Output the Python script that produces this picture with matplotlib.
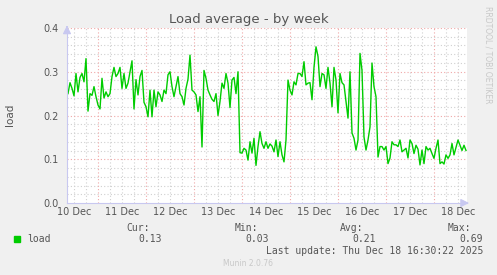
import numpy as np
import matplotlib
matplotlib.use("Agg")
import matplotlib.pyplot as plt
from matplotlib.ticker import MultipleLocator, FixedLocator

# hourly load average, starting Dec 10 09:00
load_a = [0.25, 0.275, 0.262, 0.245, 0.296, 0.254, 0.287, 0.296, 0.277, 0.33,
          0.21, 0.25, 0.246, 0.266, 0.243, 0.224, 0.215, 0.285, 0.24, 0.254,
          0.243, 0.25, 0.289, 0.31, 0.289, 0.296, 0.31, 0.262, 0.296, 0.262,
          0.274, 0.30, 0.325, 0.215, 0.282]
load_b = [0.247, 0.289, 0.303, 0.23, 0.22, 0.197, 0.258, 0.197, 0.258, 0.22,
          0.254, 0.247, 0.232, 0.258, 0.25, 0.293, 0.30, 0.266, 0.243, 0.266,
          0.289, 0.25, 0.243, 0.224, 0.262, 0.283, 0.338, 0.258, 0.254, 0.247,
          0.209, 0.243, 0.128, 0.303]
load_c = [0.285, 0.258, 0.247, 0.237, 0.232, 0.25, 0.20, 0.232, 0.274, 0.262,
          0.296, 0.274, 0.218, 0.281, 0.287, 0.25, 0.30, 0.115, 0.114, 0.125,
          0.121, 0.098, 0.14, 0.114, 0.148, 0.086, 0.129, 0.163, 0.136, 0.125,
          0.14, 0.125, 0.135, 0.13]
load_d = [0.117, 0.144, 0.106, 0.14, 0.11, 0.094, 0.144, 0.281, 0.258, 0.247,
          0.277, 0.27, 0.296, 0.296, 0.289, 0.323, 0.27, 0.274, 0.275, 0.236,
          0.31, 0.357, 0.335, 0.266, 0.296, 0.293, 0.262, 0.31, 0.274, 0.22,
          0.31, 0.281, 0.206, 0.296]
load_e = [0.275, 0.27, 0.232, 0.194, 0.30, 0.16, 0.148, 0.121, 0.144, 0.342,
          0.303, 0.151, 0.121, 0.144, 0.174, 0.32, 0.266, 0.243, 0.105, 0.129,
          0.129, 0.121, 0.129, 0.09, 0.103, 0.14, 0.133, 0.133, 0.129, 0.144,
          0.117, 0.121, 0.125, 0.103]
load_f = [0.144, 0.136, 0.113, 0.132, 0.123, 0.087, 0.121, 0.09, 0.129, 0.121,
          0.125, 0.113, 0.102, 0.125, 0.144, 0.09, 0.094, 0.089, 0.11, 0.102,
          0.11, 0.136, 0.11, 0.127, 0.144, 0.132, 0.12, 0.132, 0.12]
load = load_a + load_b + load_c + load_d + load_e + load_f

day_labels = ["10 Dec", "11 Dec", "12 Dec", "13 Dec", "14 Dec",
              "15 Dec", "16 Dec", "17 Dec", "18 Dec"]
y_ticks = [0.0, 0.1, 0.2, 0.3, 0.4]
legend_name = "load"
stats = {"Cur:": "0.13", "Min:": "0.03", "Avg:": "0.21", "Max:": "0.69"}

# time axis in hours since Dec 10 00:00
t_start, t_end = 8.5, 208.5
hours = 9.0 + np.arange(len(load))

W, H = 497, 275
fig = plt.figure(figsize=(W / 100, H / 100), dpi=100)
fig.patch.set_facecolor("#F0F0F0")
ax = fig.add_axes([67 / W, 72 / H, 400 / W, 175 / H])
ax.set_facecolor("white")

ax.set_xlim(t_start, t_end)
ax.set_ylim(0, 0.4)

minor_c = "#D0D0D0"
major_c = "#F0A8A8"
# minor grid
for x in np.arange(12, t_end, 6):
    if x % 24 != 0:
        ax.axvline(x, color=minor_c, lw=0.8, ls=(0, (1, 2)), zorder=0.5)
for y in np.arange(0.02, 0.4, 0.02):
    if round(y * 100) % 10 != 0:
        ax.axhline(y, color=minor_c, lw=0.8, ls=(0, (1, 2)), zorder=0.5)
# major grid
for x in range(24, int(t_end), 24):
    ax.axvline(x, color=major_c, lw=0.8, ls=(0, (1, 2)), zorder=0.6)
for y in y_ticks[1:]:
    ax.axhline(y, color=major_c, lw=0.8, ls=(0, (1, 2)), zorder=0.6)

ax.plot(hours, load, color="#00CC00", lw=1.0, zorder=2)

for s in ["top", "right"]:
    ax.spines[s].set_visible(False)
for s in ["left", "bottom"]:
    ax.spines[s].set_color("#C8C8F0")
    ax.spines[s].set_linewidth(0.8)

# arrows
ax.annotate("", xy=(1.012, 0), xycoords="axes fraction", xytext=(0.99, 0),
            arrowprops=dict(arrowstyle="-|>,head_length=0.5,head_width=0.25",
                            color="#C8C8F0", lw=0.8), annotation_clip=False)
ax.annotate("", xy=(0, 1.03), xycoords="axes fraction", xytext=(0, 0.99),
            arrowprops=dict(arrowstyle="-|>,head_length=0.5,head_width=0.25",
                            color="#C8C8F0", lw=0.8), annotation_clip=False)

ax.xaxis.set_major_locator(FixedLocator([12 + 24 * i for i in range(len(day_labels))]))
ax.set_xticklabels(day_labels)
ax.yaxis.set_major_locator(FixedLocator(y_ticks))
ax.set_yticklabels([f"{v:.1f}" for v in y_ticks])
ax.tick_params(axis="both", length=0, labelsize=7, colors="#555555", pad=3)
ax.tick_params(axis="y", pad=6)

txt = "#555555"
fig.text(248.5 / W, 1 - 19 / H, "Load average - by week", ha="center", va="center",
         fontsize=9.5, color=txt)
fig.text(10 / W, 1 - 115 / H, "load", rotation=90, ha="center", va="center",
         fontsize=7.5, color=txt)
fig.text(488 / W, 1 - 6 / H, "RRDTOOL / TOBI OETIKER", rotation=270, ha="center",
         va="top", fontsize=5.5, color="#C8C8C8")

mono = "DejaVu Sans Mono"
fig.patches.append(plt.Rectangle((14 / W, 1 - 242 / H), 6 / W, 6 / H,
                                 transform=fig.transFigure, color="#00CC00"))
fig.text(27 / W, 1 - 239 / H, legend_name, ha="left", va="center", family=mono,
         fontsize=7, color=txt)
head_x = {"Cur:": 150, "Min:": 258, "Avg:": 363, "Max:": 471}
val_x = {"Cur:": 162, "Min:": 269, "Avg:": 376, "Max:": 483}
for k, v in stats.items():
    fig.text(head_x[k] / W, 1 - 228 / H, k, ha="right", va="center", family=mono,
             fontsize=7, color=txt)
    fig.text(val_x[k] / W, 1 - 239 / H, v, ha="right", va="center", family=mono,
             fontsize=7, color=txt)
fig.text(483 / W, 1 - 251 / H, "Last update: Thu Dec 18 16:30:22 2025", ha="right",
         va="center", family=mono, fontsize=7, color=txt)
fig.text(248 / W, 1 - 263 / H, "Munin 2.0.76", ha="center", va="center",
         fontsize=5.5, color="#C8C8C8")

fig.savefig("out.png", dpi=100, facecolor=fig.get_facecolor())
